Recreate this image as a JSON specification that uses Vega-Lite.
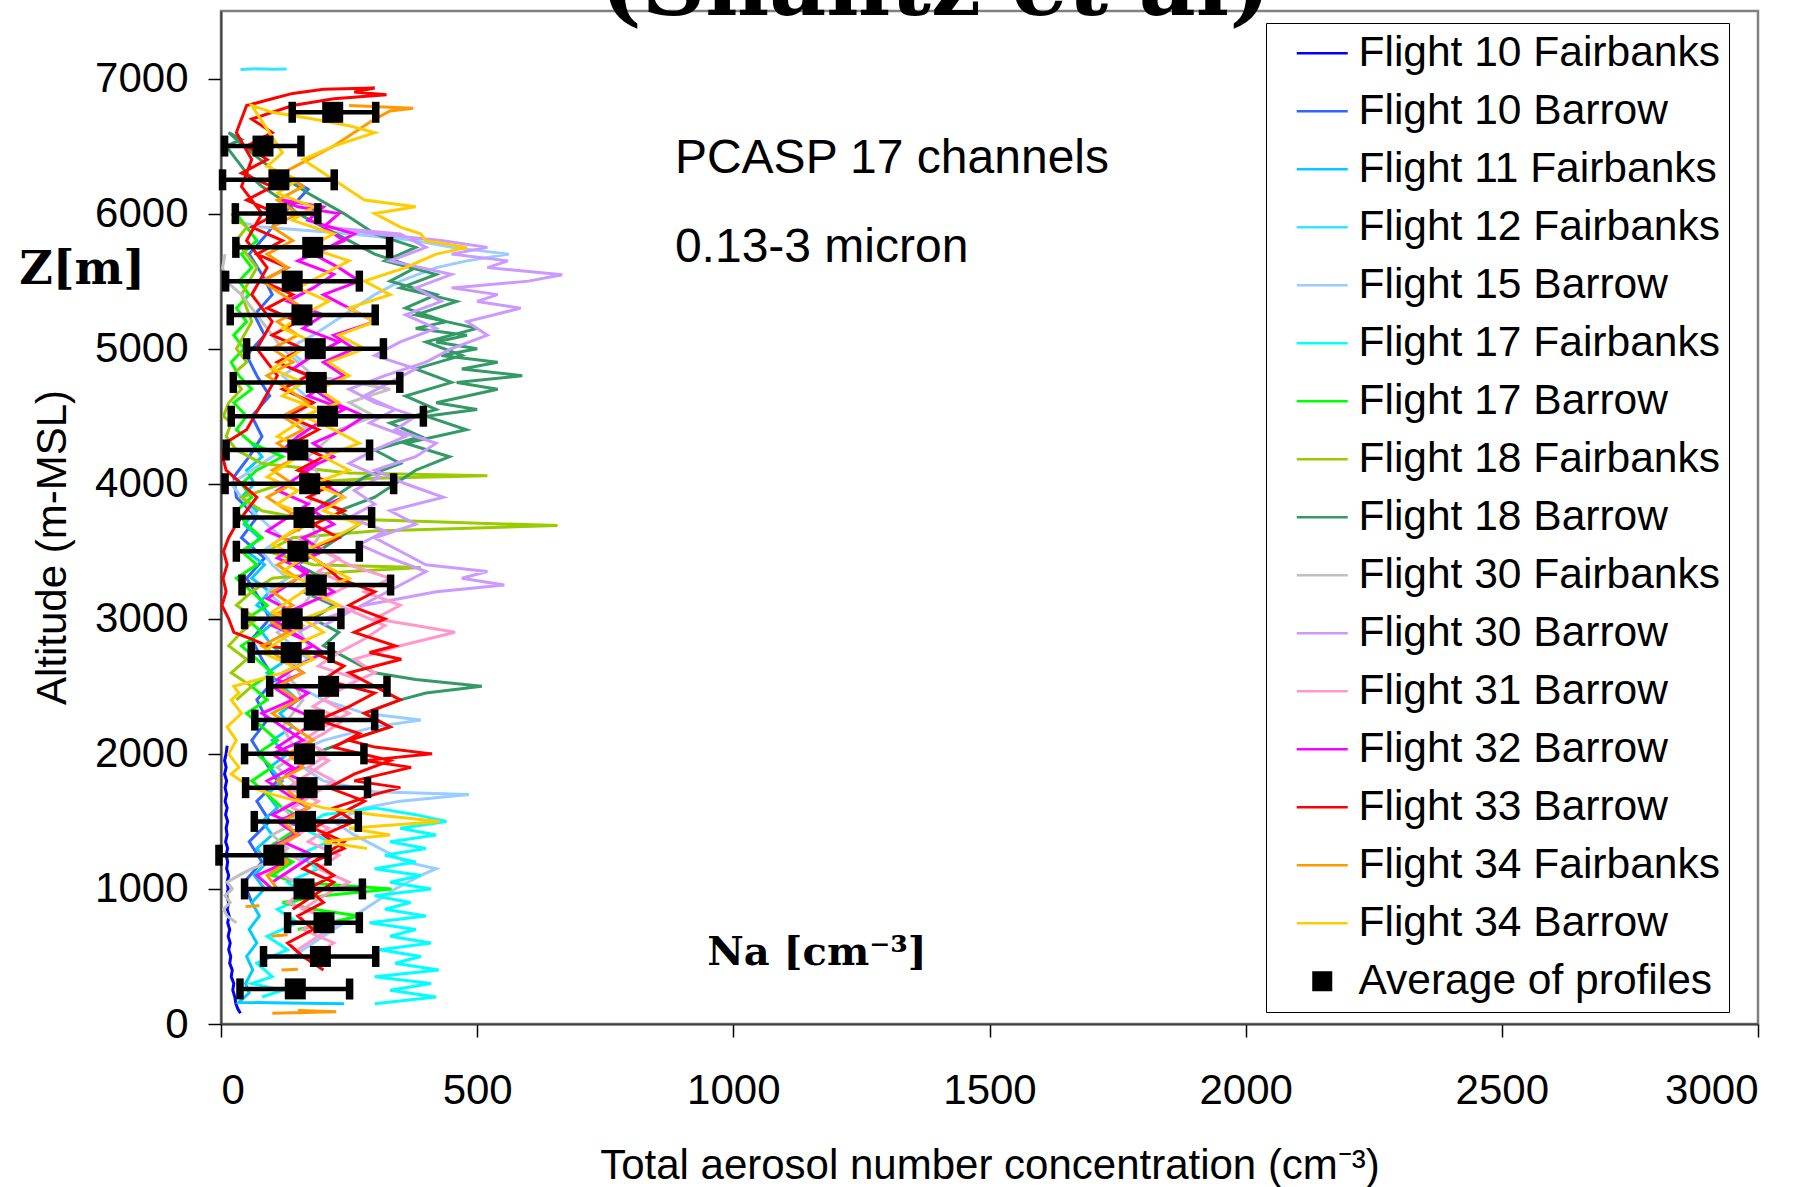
{
  "$schema": "https://vega.github.io/schema/vega-lite/v6.json",
  "width": 1537,
  "height": 1013,
  "autosize": {"type": "none"},
  "padding": {"left": 221, "top": 11, "right": 52, "bottom": 163},
  "background": "white",
  "config": {
    "view": {"stroke": "#808080", "strokeWidth": 2.5},
    "font": "Liberation Sans",
    "axis": {
      "grid": false,
      "labelFont": "Liberation Sans",
      "labelFontSize": 42,
      "labelColor": "black",
      "titleFont": "Liberation Sans",
      "titleFontSize": 42,
      "titleFontWeight": "normal",
      "titleColor": "black",
      "domainColor": "#404040",
      "domainWidth": 2,
      "tickColor": "black",
      "tickWidth": 1.5,
      "tickSize": 13,
      "format": "d"
    }
  },
  "datasets": {
    "series": [
      {"id": 1, "series": "Flight 10 Fairbanks"},
      {"id": 2, "series": "Flight 10 Barrow"},
      {"id": 3, "series": "Flight 11 Fairbanks"},
      {"id": 4, "series": "Flight 12 Fairbanks"},
      {"id": 5, "series": "Flight 15 Barrow"},
      {"id": 6, "series": "Flight 17 Fairbanks"},
      {"id": 7, "series": "Flight 17 Barrow"},
      {"id": 8, "series": "Flight 18 Fairbanks"},
      {"id": 9, "series": "Flight 18 Barrow"},
      {"id": 10, "series": "Flight 30 Fairbanks"},
      {"id": 11, "series": "Flight 30 Barrow"},
      {"id": 12, "series": "Flight 31 Barrow"},
      {"id": 13, "series": "Flight 32 Barrow"},
      {"id": 14, "series": "Flight 33 Barrow"},
      {"id": 15, "series": "Flight 34 Fairbanks"},
      {"id": 16, "series": "Flight 34 Barrow"}
    ],
    "averages": [
      {"z": 260, "m": 145, "lo": 37, "hi": 251},
      {"z": 500, "m": 194, "lo": 83, "hi": 302},
      {"z": 750, "m": 201, "lo": 130, "hi": 270},
      {"z": 1000, "m": 162, "lo": 46, "hi": 276},
      {"z": 1250, "m": 103, "lo": -4, "hi": 209},
      {"z": 1500, "m": 165, "lo": 65, "hi": 268},
      {"z": 1750, "m": 168, "lo": 48, "hi": 286},
      {"z": 2000, "m": 163, "lo": 46, "hi": 279},
      {"z": 2250, "m": 182, "lo": 66, "hi": 300},
      {"z": 2500, "m": 210, "lo": 95, "hi": 324},
      {"z": 2750, "m": 137, "lo": 59, "hi": 215},
      {"z": 3000, "m": 139, "lo": 46, "hi": 234},
      {"z": 3250, "m": 186, "lo": 41, "hi": 331},
      {"z": 3500, "m": 150, "lo": 30, "hi": 270},
      {"z": 3750, "m": 162, "lo": 30, "hi": 294},
      {"z": 4000, "m": 173, "lo": 8, "hi": 337},
      {"z": 4250, "m": 150, "lo": 10, "hi": 290},
      {"z": 4500, "m": 208, "lo": 20, "hi": 395},
      {"z": 4750, "m": 186, "lo": 24, "hi": 349},
      {"z": 5000, "m": 184, "lo": 50, "hi": 317},
      {"z": 5250, "m": 158, "lo": 18, "hi": 301},
      {"z": 5500, "m": 139, "lo": 9, "hi": 270},
      {"z": 5750, "m": 179, "lo": 29, "hi": 329},
      {"z": 6000, "m": 108, "lo": 28, "hi": 189},
      {"z": 6250, "m": 113, "lo": 3, "hi": 221},
      {"z": 6500, "m": 82, "lo": 7, "hi": 156},
      {"z": 6750, "m": 218, "lo": 139, "hi": 302}
    ],
    "profiles": [
      {"id":1,"z":80,"n":38},{"id":1,"z":110,"n":33},{"id":1,"z":150,"n":29},{"id":1,"z":200,"n":27},{"id":1,"z":250,"n":23},{"id":1,"z":300,"n":25},{"id":1,"z":350,"n":20},{"id":1,"z":400,"n":22},{"id":1,"z":450,"n":17},{"id":1,"z":500,"n":19},{"id":1,"z":550,"n":15},{"id":1,"z":600,"n":18},{"id":1,"z":650,"n":14},{"id":1,"z":700,"n":17},{"id":1,"z":750,"n":13},{"id":1,"z":800,"n":16},{"id":1,"z":850,"n":12},{"id":1,"z":900,"n":15},{"id":1,"z":950,"n":11},{"id":1,"z":1000,"n":14},{"id":1,"z":1050,"n":12},{"id":1,"z":1100,"n":15},{"id":1,"z":1150,"n":11},{"id":1,"z":1200,"n":13},{"id":1,"z":1250,"n":10},{"id":1,"z":1300,"n":13},{"id":1,"z":1350,"n":9},{"id":1,"z":1400,"n":12},{"id":1,"z":1450,"n":10},{"id":1,"z":1500,"n":13},{"id":1,"z":1550,"n":9},{"id":1,"z":1600,"n":12},{"id":1,"z":1650,"n":8},{"id":1,"z":1700,"n":11},{"id":1,"z":1750,"n":8},{"id":1,"z":1800,"n":11},{"id":1,"z":1850,"n":7},{"id":1,"z":1900,"n":10},{"id":1,"z":1950,"n":7},{"id":1,"z":2000,"n":10},{"id":1,"z":2060,"n":12},

      {"id":2,"z":900,"n":60},{"id":2,"z":1050,"n":45},{"id":2,"z":1200,"n":80},{"id":2,"z":1350,"n":55},{"id":2,"z":1500,"n":95},{"id":2,"z":1650,"n":70},{"id":2,"z":1800,"n":110},{"id":2,"z":1950,"n":85},{"id":2,"z":2100,"n":60},{"id":2,"z":2250,"n":90},{"id":2,"z":2400,"n":70},{"id":2,"z":2550,"n":105},{"id":2,"z":2700,"n":80},{"id":2,"z":2850,"n":60},{"id":2,"z":3000,"n":95},{"id":2,"z":3150,"n":75},{"id":2,"z":3300,"n":50},{"id":2,"z":3450,"n":85},{"id":2,"z":3600,"n":40},{"id":2,"z":3750,"n":70},{"id":2,"z":3900,"n":30},{"id":2,"z":4050,"n":25},{"id":2,"z":4200,"n":55},{"id":2,"z":4350,"n":80},{"id":2,"z":4500,"n":60},{"id":2,"z":4650,"n":95},{"id":2,"z":4800,"n":70},{"id":2,"z":4950,"n":50},{"id":2,"z":5100,"n":85},{"id":2,"z":5250,"n":65},{"id":2,"z":5400,"n":100},{"id":2,"z":5550,"n":80},{"id":2,"z":5700,"n":55},{"id":2,"z":5850,"n":90},{"id":2,"z":6000,"n":120},{"id":2,"z":6100,"n":150},{"id":2,"z":6180,"n":170},{"id":2,"z":6250,"n":140},

      {"id":3,"z":150,"n":240},{"id":3,"z":155,"n":130},{"id":3,"z":160,"n":35},{"id":3,"z":230,"n":55},{"id":3,"z":300,"n":48},{"id":3,"z":400,"n":62},{"id":3,"z":500,"n":50},{"id":3,"z":600,"n":70},{"id":3,"z":700,"n":55},{"id":3,"z":800,"n":75},{"id":3,"z":900,"n":60},{"id":3,"z":1000,"n":85},{"id":3,"z":1100,"n":65},{"id":3,"z":1200,"n":90},{"id":3,"z":1300,"n":70},{"id":3,"z":1400,"n":100},{"id":3,"z":1500,"n":80},{"id":3,"z":1600,"n":110},{"id":3,"z":1700,"n":90},{"id":3,"z":1800,"n":120},{"id":3,"z":1900,"n":95},{"id":3,"z":2000,"n":130},{"id":3,"z":2100,"n":100},{"id":3,"z":2200,"n":140},{"id":3,"z":2300,"n":115},{"id":3,"z":2400,"n":150},{"id":3,"z":2500,"n":120},{"id":3,"z":2600,"n":90},{"id":3,"z":2700,"n":130},{"id":3,"z":2800,"n":100},{"id":3,"z":2900,"n":80},{"id":3,"z":3000,"n":110},{"id":3,"z":3100,"n":70},{"id":3,"z":3200,"n":95},{"id":3,"z":3300,"n":60},{"id":3,"z":3400,"n":85},{"id":3,"z":3500,"n":50},{"id":3,"z":3600,"n":75},{"id":3,"z":3700,"n":45},{"id":3,"z":3800,"n":70},{"id":3,"z":3900,"n":40},{"id":3,"z":4000,"n":65},{"id":3,"z":4100,"n":50},{"id":3,"z":4200,"n":80},{"id":3,"z":4300,"n":60},

      {"id":4,"z":7066,"n":38},{"id":4,"z":7072,"n":70},{"id":4,"z":7068,"n":100},{"id":4,"z":7071,"n":128},

      {"id":5,"z":500,"n":140},{"id":5,"z":600,"n":180},{"id":5,"z":700,"n":220},{"id":5,"z":800,"n":260},{"id":5,"z":900,"n":300},{"id":5,"z":1000,"n":340},{"id":5,"z":1100,"n":390},{"id":5,"z":1150,"n":420},{"id":5,"z":1200,"n":360},{"id":5,"z":1300,"n":310},{"id":5,"z":1400,"n":260},{"id":5,"z":1500,"n":220},{"id":5,"z":1600,"n":280},{"id":5,"z":1650,"n":350},{"id":5,"z":1700,"n":484},{"id":5,"z":1720,"n":300},{"id":5,"z":1800,"n":200},{"id":5,"z":1900,"n":160},{"id":5,"z":2000,"n":140},{"id":5,"z":2100,"n":200},{"id":5,"z":2200,"n":300},{"id":5,"z":2250,"n":390},{"id":5,"z":2300,"n":280},{"id":5,"z":2400,"n":200},{"id":5,"z":2500,"n":150},{"id":5,"z":2600,"n":120},{"id":5,"z":2700,"n":170},{"id":5,"z":2800,"n":140},{"id":5,"z":2900,"n":110},{"id":5,"z":3000,"n":150},{"id":5,"z":3100,"n":120},{"id":5,"z":3200,"n":90},{"id":5,"z":3300,"n":130},{"id":5,"z":3400,"n":100},{"id":5,"z":3500,"n":80},{"id":5,"z":3600,"n":120},{"id":5,"z":3700,"n":90},{"id":5,"z":3800,"n":60},{"id":5,"z":3900,"n":40},{"id":5,"z":4000,"n":20},{"id":5,"z":4100,"n":60},{"id":5,"z":4200,"n":100},{"id":5,"z":4300,"n":140},{"id":5,"z":4400,"n":170},{"id":5,"z":4500,"n":140},{"id":5,"z":4600,"n":180},{"id":5,"z":4700,"n":150},{"id":5,"z":4800,"n":120},{"id":5,"z":4900,"n":160},{"id":5,"z":5000,"n":130},{"id":5,"z":5100,"n":180},{"id":5,"z":5200,"n":220},{"id":5,"z":5300,"n":260},{"id":5,"z":5400,"n":300},{"id":5,"z":5500,"n":350},{"id":5,"z":5600,"n":420},{"id":5,"z":5650,"n":480},{"id":5,"z":5700,"n":562},{"id":5,"z":5750,"n":450},{"id":5,"z":5800,"n":380},{"id":5,"z":5850,"n":250},{"id":5,"z":5900,"n":80},{"id":5,"z":5950,"n":20},

      {"id":6,"z":150,"n":300},{"id":6,"z":200,"n":420},{"id":6,"z":250,"n":330},{"id":6,"z":300,"n":410},{"id":6,"z":350,"n":300},{"id":6,"z":400,"n":425},{"id":6,"z":450,"n":340},{"id":6,"z":500,"n":390},{"id":6,"z":550,"n":310},{"id":6,"z":600,"n":410},{"id":6,"z":650,"n":330},{"id":6,"z":700,"n":380},{"id":6,"z":750,"n":290},{"id":6,"z":800,"n":400},{"id":6,"z":850,"n":320},{"id":6,"z":900,"n":370},{"id":6,"z":950,"n":300},{"id":6,"z":1000,"n":410},{"id":6,"z":1050,"n":330},{"id":6,"z":1100,"n":390},{"id":6,"z":1150,"n":300},{"id":6,"z":1200,"n":380},{"id":6,"z":1250,"n":320},{"id":6,"z":1300,"n":400},{"id":6,"z":1350,"n":330},{"id":6,"z":1400,"n":420},{"id":6,"z":1450,"n":350},{"id":6,"z":1500,"n":440},{"id":6,"z":1550,"n":380},{"id":6,"z":1600,"n":300},{"id":6,"z":1550,"n":200},{"id":6,"z":1450,"n":160},{"id":6,"z":1350,"n":210},{"id":6,"z":1250,"n":150},{"id":6,"z":1150,"n":190},{"id":6,"z":1050,"n":130},{"id":6,"z":950,"n":170},{"id":6,"z":850,"n":110},{"id":6,"z":750,"n":150},{"id":6,"z":650,"n":90},{"id":6,"z":550,"n":130},{"id":6,"z":450,"n":70},{"id":6,"z":350,"n":100},{"id":6,"z":300,"n":60},{"id":6,"z":250,"n":120},{"id":6,"z":200,"n":80},

      {"id":7,"z":700,"n":150},{"id":7,"z":800,"n":270},{"id":7,"z":850,"n":180},{"id":7,"z":900,"n":120},{"id":7,"z":950,"n":200},{"id":7,"z":1000,"n":333},{"id":7,"z":1050,"n":150},{"id":7,"z":1100,"n":100},{"id":7,"z":1200,"n":140},{"id":7,"z":1300,"n":90},{"id":7,"z":1400,"n":130},{"id":7,"z":1500,"n":170},{"id":7,"z":1600,"n":120},{"id":7,"z":1700,"n":90},{"id":7,"z":1800,"n":60},{"id":7,"z":1900,"n":100},{"id":7,"z":2000,"n":70},{"id":7,"z":2100,"n":110},{"id":7,"z":2200,"n":80},{"id":7,"z":2300,"n":50},{"id":7,"z":2400,"n":90},{"id":7,"z":2500,"n":60},{"id":7,"z":2600,"n":100},{"id":7,"z":2700,"n":70},{"id":7,"z":2800,"n":40},{"id":7,"z":2900,"n":80},{"id":7,"z":3000,"n":50},{"id":7,"z":3100,"n":90},{"id":7,"z":3200,"n":60},{"id":7,"z":3300,"n":30},{"id":7,"z":3400,"n":70},{"id":7,"z":3500,"n":40},{"id":7,"z":3600,"n":80},{"id":7,"z":3700,"n":50},{"id":7,"z":3800,"n":30},{"id":7,"z":3900,"n":60},{"id":7,"z":4000,"n":40},{"id":7,"z":4100,"n":70},{"id":7,"z":4200,"n":120},{"id":7,"z":4300,"n":60},{"id":7,"z":4400,"n":30},{"id":7,"z":4500,"n":50},{"id":7,"z":4600,"n":25},{"id":7,"z":4700,"n":60},{"id":7,"z":4800,"n":35},{"id":7,"z":4900,"n":20},{"id":7,"z":5000,"n":45},{"id":7,"z":5100,"n":25},{"id":7,"z":5200,"n":50},{"id":7,"z":5300,"n":30},{"id":7,"z":5400,"n":55},{"id":7,"z":5500,"n":35},{"id":7,"z":5600,"n":60},{"id":7,"z":5700,"n":40},{"id":7,"z":5800,"n":70},{"id":7,"z":5900,"n":50},{"id":7,"z":6000,"n":30},

      {"id":8,"z":2400,"n":30},{"id":8,"z":2500,"n":60},{"id":8,"z":2600,"n":20},{"id":8,"z":2700,"n":50},{"id":8,"z":2800,"n":15},{"id":8,"z":2900,"n":40},{"id":8,"z":3000,"n":70},{"id":8,"z":3100,"n":30},{"id":8,"z":3200,"n":60},{"id":8,"z":3300,"n":100},{"id":8,"z":3350,"n":250},{"id":8,"z":3380,"n":390},{"id":8,"z":3400,"n":180},{"id":8,"z":3500,"n":90},{"id":8,"z":3600,"n":140},{"id":8,"z":3650,"n":300},{"id":8,"z":3690,"n":657},{"id":8,"z":3720,"n":400},{"id":8,"z":3750,"n":150},{"id":8,"z":3800,"n":80},{"id":8,"z":3900,"n":40},{"id":8,"z":4000,"n":120},{"id":8,"z":4040,"n":300},{"id":8,"z":4060,"n":520},{"id":8,"z":4080,"n":250},{"id":8,"z":4150,"n":80},{"id":8,"z":4250,"n":30},{"id":8,"z":4350,"n":10},{"id":8,"z":4450,"n":20},{"id":8,"z":4500,"n":5},{"id":8,"z":4600,"n":15},{"id":8,"z":4700,"n":40},{"id":8,"z":4800,"n":20},{"id":8,"z":4900,"n":50},{"id":8,"z":5000,"n":30},{"id":8,"z":5200,"n":60},{"id":8,"z":5400,"n":40},{"id":8,"z":5600,"n":70},{"id":8,"z":5800,"n":30},{"id":8,"z":5900,"n":50},{"id":8,"z":6000,"n":20},

      {"id":9,"z":2000,"n":180},{"id":9,"z":2100,"n":250},{"id":9,"z":2200,"n":330},{"id":9,"z":2300,"n":280},{"id":9,"z":2400,"n":350},{"id":9,"z":2450,"n":400},{"id":9,"z":2500,"n":509},{"id":9,"z":2550,"n":380},{"id":9,"z":2600,"n":300},{"id":9,"z":2700,"n":250},{"id":9,"z":2800,"n":200},{"id":9,"z":2900,"n":230},{"id":9,"z":3000,"n":180},{"id":9,"z":3100,"n":220},{"id":9,"z":3200,"n":160},{"id":9,"z":3300,"n":200},{"id":9,"z":3400,"n":150},{"id":9,"z":3500,"n":190},{"id":9,"z":3600,"n":230},{"id":9,"z":3700,"n":270},{"id":9,"z":3800,"n":230},{"id":9,"z":3900,"n":300},{"id":9,"z":4000,"n":340},{"id":9,"z":4100,"n":380},{"id":9,"z":4200,"n":446},{"id":9,"z":4300,"n":360},{"id":9,"z":4400,"n":479},{"id":9,"z":4500,"n":400},{"id":9,"z":4550,"n":500},{"id":9,"z":4600,"n":420},{"id":9,"z":4700,"n":540},{"id":9,"z":4750,"n":460},{"id":9,"z":4800,"n":588},{"id":9,"z":4850,"n":470},{"id":9,"z":4900,"n":540},{"id":9,"z":4950,"n":430},{"id":9,"z":5000,"n":500},{"id":9,"z":5050,"n":420},{"id":9,"z":5100,"n":480},{"id":9,"z":5150,"n":380},{"id":9,"z":5200,"n":440},{"id":9,"z":5300,"n":360},{"id":9,"z":5400,"n":420},{"id":9,"z":5500,"n":330},{"id":9,"z":5600,"n":380},{"id":9,"z":5700,"n":300},{"id":9,"z":5800,"n":250},{"id":9,"z":5900,"n":200},{"id":9,"z":6000,"n":150},{"id":9,"z":6100,"n":120},{"id":9,"z":6200,"n":80},{"id":9,"z":6300,"n":50},{"id":9,"z":6400,"n":30},{"id":9,"z":6500,"n":10},{"id":9,"z":6550,"n":40},{"id":9,"z":6600,"n":15},{"id":9,"z":6450,"n":60},{"id":9,"z":6300,"n":110},{"id":9,"z":6150,"n":170},{"id":9,"z":6000,"n":240},{"id":9,"z":5850,"n":300},{"id":9,"z":5750,"n":380},{"id":9,"z":5650,"n":320},{"id":9,"z":5550,"n":420},{"id":9,"z":5450,"n":350},{"id":9,"z":5350,"n":460},{"id":9,"z":5250,"n":380},{"id":9,"z":5150,"n":500},{"id":9,"z":5050,"n":400},{"id":9,"z":4950,"n":470},{"id":9,"z":4850,"n":380},{"id":9,"z":4750,"n":450},{"id":9,"z":4650,"n":360},{"id":9,"z":4550,"n":420},{"id":9,"z":4450,"n":330},{"id":9,"z":4350,"n":390},{"id":9,"z":4250,"n":300},{"id":9,"z":4150,"n":350},{"id":9,"z":4050,"n":280},{"id":9,"z":3950,"n":240},{"id":9,"z":3850,"n":200},{"id":9,"z":3750,"n":170},{"id":9,"z":3650,"n":150},

      {"id":10,"z":750,"n":30},{"id":10,"z":800,"n":12},{"id":10,"z":850,"n":5},{"id":10,"z":900,"n":18},{"id":10,"z":950,"n":8},{"id":10,"z":1000,"n":22},{"id":10,"z":1050,"n":12},{"id":10,"z":1100,"n":35},{"id":10,"z":1150,"n":60},{"id":10,"z":1200,"n":95},{"id":10,"z":1300,"n":130},{"id":10,"z":1400,"n":100},{"id":10,"z":1500,"n":150},{"id":10,"z":1600,"n":120},{"id":10,"z":1700,"n":170},{"id":10,"z":1800,"n":140},{"id":10,"z":1900,"n":110},{"id":10,"z":2000,"n":150},{"id":10,"z":2200,"n":120},{"id":10,"z":2400,"n":160},{"id":10,"z":2600,"n":130},{"id":10,"z":2800,"n":170},{"id":10,"z":3000,"n":140},{"id":10,"z":3200,"n":180},{"id":10,"z":3400,"n":150},{"id":10,"z":3600,"n":190},{"id":10,"z":3800,"n":160},{"id":10,"z":4000,"n":200},{"id":10,"z":4200,"n":170},{"id":10,"z":4400,"n":230},{"id":10,"z":4500,"n":300},{"id":10,"z":4600,"n":250},{"id":10,"z":4700,"n":330},{"id":10,"z":4750,"n":260},{"id":10,"z":4800,"n":180},{"id":10,"z":5000,"n":120},{"id":10,"z":5200,"n":80},{"id":10,"z":5400,"n":40},{"id":10,"z":5500,"n":10},{"id":10,"z":5600,"n":3},{"id":10,"z":5700,"n":8},

      {"id":11,"z":2900,"n":150},{"id":11,"z":3000,"n":200},{"id":11,"z":3100,"n":280},{"id":11,"z":3200,"n":420},{"id":11,"z":3250,"n":553},{"id":11,"z":3300,"n":470},{"id":11,"z":3350,"n":520},{"id":11,"z":3400,"n":400},{"id":11,"z":3500,"n":350},{"id":11,"z":3600,"n":300},{"id":11,"z":3700,"n":380},{"id":11,"z":3800,"n":330},{"id":11,"z":3900,"n":434},{"id":11,"z":4000,"n":360},{"id":11,"z":4100,"n":300},{"id":11,"z":4200,"n":380},{"id":11,"z":4300,"n":420},{"id":11,"z":4400,"n":340},{"id":11,"z":4500,"n":380},{"id":11,"z":4600,"n":300},{"id":11,"z":4700,"n":250},{"id":11,"z":4800,"n":320},{"id":11,"z":4900,"n":400},{"id":11,"z":5000,"n":450},{"id":11,"z":5100,"n":520},{"id":11,"z":5200,"n":480},{"id":11,"z":5300,"n":585},{"id":11,"z":5350,"n":500},{"id":11,"z":5400,"n":540},{"id":11,"z":5450,"n":450},{"id":11,"z":5500,"n":600},{"id":11,"z":5547,"n":666},{"id":11,"z":5600,"n":520},{"id":11,"z":5650,"n":560},{"id":11,"z":5700,"n":450},{"id":11,"z":5750,"n":520},{"id":11,"z":5800,"n":430},{"id":11,"z":5850,"n":300},{"id":11,"z":5900,"n":200},{"id":11,"z":5850,"n":350},{"id":11,"z":5750,"n":400},{"id":11,"z":5650,"n":330},{"id":11,"z":5550,"n":450},{"id":11,"z":5450,"n":380},{"id":11,"z":5350,"n":430},{"id":11,"z":5250,"n":360},{"id":11,"z":5150,"n":420},{"id":11,"z":5050,"n":350},{"id":11,"z":4950,"n":300},{"id":11,"z":4850,"n":380},{"id":11,"z":4750,"n":330},{"id":11,"z":4650,"n":280},{"id":11,"z":4550,"n":340},{"id":11,"z":4450,"n":290},{"id":11,"z":4350,"n":360},{"id":11,"z":4250,"n":300},{"id":11,"z":4150,"n":250},{"id":11,"z":4050,"n":310},{"id":11,"z":3950,"n":260},{"id":11,"z":3850,"n":300},{"id":11,"z":3750,"n":250},{"id":11,"z":3650,"n":320},{"id":11,"z":3550,"n":270},{"id":11,"z":3450,"n":330},{"id":11,"z":3350,"n":400},{"id":11,"z":3250,"n":350},{"id":11,"z":3150,"n":300},{"id":11,"z":3050,"n":250},{"id":11,"z":2950,"n":200},

      {"id":12,"z":500,"n":180},{"id":12,"z":600,"n":220},{"id":12,"z":700,"n":160},{"id":12,"z":800,"n":200},{"id":12,"z":900,"n":130},{"id":12,"z":1000,"n":170},{"id":12,"z":1100,"n":120},{"id":12,"z":1200,"n":160},{"id":12,"z":1300,"n":110},{"id":12,"z":1400,"n":150},{"id":12,"z":1500,"n":190},{"id":12,"z":1600,"n":140},{"id":12,"z":1700,"n":180},{"id":12,"z":1800,"n":220},{"id":12,"z":1900,"n":170},{"id":12,"z":2000,"n":210},{"id":12,"z":2100,"n":160},{"id":12,"z":2200,"n":200},{"id":12,"z":2300,"n":250},{"id":12,"z":2400,"n":200},{"id":12,"z":2500,"n":240},{"id":12,"z":2600,"n":300},{"id":12,"z":2700,"n":260},{"id":12,"z":2800,"n":350},{"id":12,"z":2900,"n":457},{"id":12,"z":2950,"n":380},{"id":12,"z":3000,"n":300},{"id":12,"z":3100,"n":350},{"id":12,"z":3200,"n":280},{"id":12,"z":3300,"n":330},{"id":12,"z":3400,"n":250},{"id":12,"z":3500,"n":200},{"id":12,"z":3600,"n":150},{"id":12,"z":3550,"n":180},{"id":12,"z":3450,"n":230},{"id":12,"z":3350,"n":190},{"id":12,"z":3250,"n":250},{"id":12,"z":3150,"n":200},{"id":12,"z":3050,"n":260},{"id":12,"z":2950,"n":320},{"id":12,"z":2850,"n":280},{"id":12,"z":2750,"n":230},{"id":12,"z":2650,"n":190},{"id":12,"z":2550,"n":270},{"id":12,"z":2450,"n":220},{"id":12,"z":2350,"n":180},{"id":12,"z":2250,"n":240},{"id":12,"z":2150,"n":200},{"id":12,"z":2050,"n":150},{"id":12,"z":1950,"n":210},{"id":12,"z":1850,"n":170},{"id":12,"z":1750,"n":130},{"id":12,"z":1650,"n":190},{"id":12,"z":1550,"n":150},{"id":12,"z":1450,"n":210},{"id":12,"z":1350,"n":170},{"id":12,"z":1250,"n":230},{"id":12,"z":1150,"n":190},{"id":12,"z":1050,"n":250},{"id":12,"z":950,"n":200},{"id":12,"z":850,"n":160},{"id":12,"z":750,"n":230},{"id":12,"z":650,"n":190},{"id":12,"z":550,"n":150},

      {"id":13,"z":1000,"n":100},{"id":13,"z":1100,"n":70},{"id":13,"z":1200,"n":130},{"id":13,"z":1300,"n":90},{"id":13,"z":1400,"n":150},{"id":13,"z":1500,"n":110},{"id":13,"z":1600,"n":170},{"id":13,"z":1700,"n":130},{"id":13,"z":1800,"n":90},{"id":13,"z":1900,"n":140},{"id":13,"z":2000,"n":100},{"id":13,"z":2100,"n":160},{"id":13,"z":2200,"n":120},{"id":13,"z":2300,"n":80},{"id":13,"z":2400,"n":140},{"id":13,"z":2500,"n":100},{"id":13,"z":2600,"n":160},{"id":13,"z":2700,"n":120},{"id":13,"z":2800,"n":180},{"id":13,"z":2900,"n":140},{"id":13,"z":3000,"n":100},{"id":13,"z":3100,"n":160},{"id":13,"z":3200,"n":220},{"id":13,"z":3300,"n":180},{"id":13,"z":3400,"n":140},{"id":13,"z":3500,"n":200},{"id":13,"z":3600,"n":160},{"id":13,"z":3700,"n":220},{"id":13,"z":3800,"n":180},{"id":13,"z":3900,"n":240},{"id":13,"z":4000,"n":200},{"id":13,"z":4100,"n":160},{"id":13,"z":4200,"n":220},{"id":13,"z":4300,"n":180},{"id":13,"z":4400,"n":240},{"id":13,"z":4500,"n":280},{"id":13,"z":4600,"n":220},{"id":13,"z":4700,"n":180},{"id":13,"z":4800,"n":240},{"id":13,"z":4900,"n":200},{"id":13,"z":5000,"n":260},{"id":13,"z":5100,"n":220},{"id":13,"z":5200,"n":300},{"id":13,"z":5300,"n":250},{"id":13,"z":5400,"n":200},{"id":13,"z":5500,"n":270},{"id":13,"z":5600,"n":230},{"id":13,"z":5700,"n":180},{"id":13,"z":5800,"n":240},{"id":13,"z":5900,"n":200},{"id":13,"z":6000,"n":230},{"id":13,"z":6050,"n":150},{"id":13,"z":6100,"n":120},{"id":13,"z":6050,"n":200},{"id":13,"z":5950,"n":170},{"id":13,"z":5850,"n":260},{"id":13,"z":5750,"n":210},{"id":13,"z":5650,"n":150},{"id":13,"z":5550,"n":220},{"id":13,"z":5450,"n":180},{"id":13,"z":5350,"n":130},{"id":13,"z":5250,"n":200},{"id":13,"z":5150,"n":160},{"id":13,"z":5050,"n":230},{"id":13,"z":4950,"n":180},{"id":13,"z":4850,"n":140},{"id":13,"z":4750,"n":210},{"id":13,"z":4650,"n":170},{"id":13,"z":4550,"n":240},{"id":13,"z":4450,"n":190},{"id":13,"z":4350,"n":150},{"id":13,"z":4250,"n":120},{"id":13,"z":4150,"n":190},{"id":13,"z":4050,"n":150},{"id":13,"z":3950,"n":110},{"id":13,"z":3850,"n":170},{"id":13,"z":3750,"n":130},{"id":13,"z":3650,"n":90},{"id":13,"z":3550,"n":150},{"id":13,"z":3450,"n":110},{"id":13,"z":3350,"n":170},{"id":13,"z":3250,"n":130},{"id":13,"z":3150,"n":90},{"id":13,"z":3050,"n":140},{"id":13,"z":2950,"n":100},{"id":13,"z":2850,"n":160},{"id":13,"z":2750,"n":200},{"id":13,"z":2650,"n":150},{"id":13,"z":2550,"n":110},{"id":13,"z":2450,"n":170},{"id":13,"z":2350,"n":130},{"id":13,"z":2250,"n":190},{"id":13,"z":2150,"n":150},{"id":13,"z":2050,"n":110},{"id":13,"z":1950,"n":170},{"id":13,"z":1850,"n":130},{"id":13,"z":1750,"n":190},{"id":13,"z":1650,"n":150},{"id":13,"z":1550,"n":100},{"id":13,"z":1450,"n":160},{"id":13,"z":1350,"n":120},{"id":13,"z":1250,"n":180},{"id":13,"z":1150,"n":140},{"id":13,"z":1050,"n":100},

      {"id":14,"z":400,"n":200},{"id":14,"z":500,"n":160},{"id":14,"z":600,"n":130},{"id":14,"z":700,"n":180},{"id":14,"z":800,"n":150},{"id":14,"z":900,"n":200},{"id":14,"z":1000,"n":170},{"id":14,"z":1100,"n":220},{"id":14,"z":1200,"n":180},{"id":14,"z":1300,"n":240},{"id":14,"z":1400,"n":200},{"id":14,"z":1500,"n":260},{"id":14,"z":1600,"n":220},{"id":14,"z":1700,"n":300},{"id":14,"z":1750,"n":350},{"id":14,"z":1800,"n":260},{"id":14,"z":1900,"n":371},{"id":14,"z":1950,"n":280},{"id":14,"z":2000,"n":412},{"id":14,"z":2050,"n":300},{"id":14,"z":2100,"n":250},{"id":14,"z":2200,"n":330},{"id":14,"z":2300,"n":280},{"id":14,"z":2400,"n":350},{"id":14,"z":2500,"n":300},{"id":14,"z":2600,"n":250},{"id":14,"z":2700,"n":352},{"id":14,"z":2750,"n":290},{"id":14,"z":2800,"n":340},{"id":14,"z":2900,"n":260},{"id":14,"z":3000,"n":320},{"id":14,"z":3100,"n":250},{"id":14,"z":3200,"n":300},{"id":14,"z":3300,"n":230},{"id":14,"z":3400,"n":200},{"id":14,"z":3500,"n":160},{"id":14,"z":3600,"n":230},{"id":14,"z":3700,"n":180},{"id":14,"z":3800,"n":240},{"id":14,"z":3900,"n":170},{"id":14,"z":4000,"n":220},{"id":14,"z":4100,"n":150},{"id":14,"z":4200,"n":200},{"id":14,"z":4300,"n":140},{"id":14,"z":4400,"n":190},{"id":14,"z":4500,"n":130},{"id":14,"z":4600,"n":180},{"id":14,"z":4700,"n":120},{"id":14,"z":4800,"n":170},{"id":14,"z":4900,"n":110},{"id":14,"z":5000,"n":160},{"id":14,"z":5100,"n":100},{"id":14,"z":5200,"n":150},{"id":14,"z":5300,"n":90},{"id":14,"z":5400,"n":140},{"id":14,"z":5500,"n":80},{"id":14,"z":5600,"n":130},{"id":14,"z":5700,"n":70},{"id":14,"z":5800,"n":120},{"id":14,"z":5900,"n":60},{"id":14,"z":6000,"n":110},{"id":14,"z":6100,"n":50},{"id":14,"z":6200,"n":100},{"id":14,"z":6300,"n":40},{"id":14,"z":6400,"n":90},{"id":14,"z":6500,"n":50},{"id":14,"z":6600,"n":100},{"id":14,"z":6700,"n":60},{"id":14,"z":6800,"n":140},{"id":14,"z":6850,"n":220},{"id":14,"z":6880,"n":323},{"id":14,"z":6900,"n":260},{"id":14,"z":6930,"n":300},{"id":14,"z":6920,"n":200},{"id":14,"z":6890,"n":140},{"id":14,"z":6850,"n":100},{"id":14,"z":6800,"n":50},{"id":14,"z":6600,"n":30},{"id":14,"z":6400,"n":60},{"id":14,"z":6200,"n":40},{"id":14,"z":6000,"n":80},{"id":14,"z":5800,"n":50},{"id":14,"z":5600,"n":90},{"id":14,"z":5400,"n":60},{"id":14,"z":5200,"n":100},{"id":14,"z":5000,"n":70},{"id":14,"z":4800,"n":110},{"id":14,"z":4600,"n":80},{"id":14,"z":4400,"n":50},{"id":14,"z":4300,"n":8},{"id":14,"z":4200,"n":3},{"id":14,"z":4100,"n":10},{"id":14,"z":4000,"n":40},{"id":14,"z":3900,"n":70},{"id":14,"z":3800,"n":50},{"id":14,"z":3700,"n":30},{"id":14,"z":3600,"n":15},{"id":14,"z":3500,"n":5},{"id":14,"z":3400,"n":12},{"id":14,"z":3300,"n":4},{"id":14,"z":3200,"n":10},{"id":14,"z":3100,"n":2},{"id":14,"z":3000,"n":15},{"id":14,"z":2900,"n":25},{"id":14,"z":2850,"n":60},{"id":14,"z":2800,"n":90},{"id":14,"z":2750,"n":180},{"id":14,"z":2650,"n":240},{"id":14,"z":2550,"n":200},{"id":14,"z":2450,"n":300},{"id":14,"z":2350,"n":250},{"id":14,"z":2250,"n":190},{"id":14,"z":2150,"n":270},{"id":14,"z":2050,"n":220},{"id":14,"z":1950,"n":330},{"id":14,"z":1850,"n":260},{"id":14,"z":1750,"n":210},{"id":14,"z":1650,"n":280},{"id":14,"z":1550,"n":230},{"id":14,"z":1450,"n":180},{"id":14,"z":1350,"n":240},{"id":14,"z":1250,"n":200},{"id":14,"z":1150,"n":160},{"id":14,"z":1050,"n":220},{"id":14,"z":950,"n":180},{"id":14,"z":850,"n":140},

      {"id":15,"p":1,"z":80,"n":100},{"id":15,"p":1,"z":90,"n":225},{"id":15,"p":1,"z":100,"n":150},
      {"id":15,"p":2,"z":200,"n":125},{"id":15,"p":2,"z":205,"n":148},
      {"id":15,"p":3,"z":400,"n":118},{"id":15,"p":3,"z":405,"n":150},
      {"id":15,"p":4,"z":650,"n":98},{"id":15,"p":4,"z":660,"n":130},
      {"id":15,"p":5,"z":870,"n":48},{"id":15,"p":5,"z":875,"n":75},
      {"id":15,"z":1000,"n":110},{"id":15,"z":1100,"n":90},{"id":15,"z":1200,"n":130},{"id":15,"z":1300,"n":100},{"id":15,"z":1400,"n":150},{"id":15,"z":1500,"n":120},{"id":15,"z":1600,"n":170},{"id":15,"z":1700,"n":140},{"id":15,"z":1800,"n":110},{"id":15,"z":1900,"n":160},{"id":15,"z":2000,"n":130},{"id":15,"z":2100,"n":180},{"id":15,"z":2200,"n":140},{"id":15,"z":2300,"n":100},{"id":15,"z":2400,"n":150},{"id":15,"z":2500,"n":110},{"id":15,"z":2600,"n":160},{"id":15,"z":2700,"n":120},{"id":15,"z":2800,"n":80},{"id":15,"z":2900,"n":130},{"id":15,"z":3000,"n":90},{"id":15,"z":3100,"n":140},{"id":15,"z":3200,"n":100},{"id":15,"z":3300,"n":150},{"id":15,"z":3400,"n":110},{"id":15,"z":3500,"n":160},{"id":15,"z":3600,"n":120},{"id":15,"z":3700,"n":170},{"id":15,"z":3800,"n":130},{"id":15,"z":3900,"n":90},{"id":15,"z":4000,"n":140},{"id":15,"z":4100,"n":100},{"id":15,"z":4200,"n":150},{"id":15,"z":4300,"n":110},{"id":15,"z":4400,"n":160},{"id":15,"z":4500,"n":120},{"id":15,"z":4600,"n":170},{"id":15,"z":4700,"n":130},{"id":15,"z":4800,"n":90},{"id":15,"z":4900,"n":140},{"id":15,"z":5000,"n":100},{"id":15,"z":5100,"n":150},{"id":15,"z":5200,"n":110},{"id":15,"z":5300,"n":160},{"id":15,"z":5400,"n":120},{"id":15,"z":5500,"n":80},{"id":15,"z":5600,"n":130},{"id":15,"z":5700,"n":90},{"id":15,"z":5800,"n":140},{"id":15,"z":5900,"n":100},{"id":15,"z":6000,"n":150},{"id":15,"z":6100,"n":110},{"id":15,"z":6200,"n":160},{"id":15,"z":6300,"n":120},{"id":15,"z":6400,"n":170},{"id":15,"z":6500,"n":220},{"id":15,"z":6600,"n":260},{"id":15,"z":6700,"n":300},{"id":15,"z":6760,"n":330},{"id":15,"z":6780,"n":375},{"id":15,"z":6800,"n":250},

      {"id":16,"z":1300,"n":285},{"id":16,"z":1350,"n":200},{"id":16,"z":1400,"n":330},{"id":16,"z":1450,"n":250},{"id":16,"z":1500,"n":427},{"id":16,"z":1550,"n":300},{"id":16,"z":1600,"n":200},{"id":16,"z":1650,"n":150},{"id":16,"z":1700,"n":100},{"id":16,"z":1750,"n":60},{"id":16,"z":1800,"n":40},{"id":16,"z":1850,"n":20},{"id":16,"z":1900,"n":35},{"id":16,"z":2000,"n":15},{"id":16,"z":2100,"n":30},{"id":16,"z":2200,"n":12},{"id":16,"z":2300,"n":40},{"id":16,"z":2400,"n":20},{"id":16,"z":2450,"n":35},{"id":16,"z":2500,"n":25},{"id":16,"z":2600,"n":120},{"id":16,"z":2700,"n":180},{"id":16,"z":2800,"n":140},{"id":16,"z":2900,"n":200},{"id":16,"z":3000,"n":160},{"id":16,"z":3100,"n":230},{"id":16,"z":3200,"n":180},{"id":16,"z":3300,"n":250},{"id":16,"z":3400,"n":200},{"id":16,"z":3500,"n":160},{"id":16,"z":3600,"n":220},{"id":16,"z":3700,"n":270},{"id":16,"z":3800,"n":200},{"id":16,"z":3900,"n":240},{"id":16,"z":4000,"n":180},{"id":16,"z":4100,"n":250},{"id":16,"z":4200,"n":200},{"id":16,"z":4300,"n":270},{"id":16,"z":4400,"n":220},{"id":16,"z":4500,"n":160},{"id":16,"z":4600,"n":230},{"id":16,"z":4700,"n":190},{"id":16,"z":4800,"n":250},{"id":16,"z":4900,"n":210},{"id":16,"z":5000,"n":280},{"id":16,"z":5100,"n":230},{"id":16,"z":5200,"n":300},{"id":16,"z":5300,"n":250},{"id":16,"z":5400,"n":330},{"id":16,"z":5500,"n":280},{"id":16,"z":5600,"n":360},{"id":16,"z":5700,"n":420},{"id":16,"z":5750,"n":480},{"id":16,"z":5800,"n":400},{"id":16,"z":5850,"n":390},{"id":16,"z":5900,"n":350},{"id":16,"z":6000,"n":300},{"id":16,"z":6050,"n":380},{"id":16,"z":6100,"n":280},{"id":16,"z":6200,"n":240},{"id":16,"z":6300,"n":200},{"id":16,"z":6400,"n":160},{"id":16,"z":6500,"n":220},{"id":16,"z":6600,"n":300},{"id":16,"z":6650,"n":250},{"id":16,"z":6700,"n":180},{"id":16,"z":6750,"n":100},{"id":16,"z":6800,"n":60},{"id":16,"z":6450,"n":120},{"id":16,"z":6350,"n":90},{"id":16,"z":6250,"n":150},{"id":16,"z":6150,"n":110},{"id":16,"z":6050,"n":180},{"id":16,"z":5950,"n":140},{"id":16,"z":5850,"n":220},{"id":16,"z":5750,"n":170},{"id":16,"z":5650,"n":250},{"id":16,"z":5550,"n":200},{"id":16,"z":5450,"n":150},{"id":16,"z":5350,"n":210},{"id":16,"z":5250,"n":160},{"id":16,"z":5150,"n":120},{"id":16,"z":5050,"n":180},{"id":16,"z":4950,"n":140},{"id":16,"z":4850,"n":100},{"id":16,"z":4750,"n":160},{"id":16,"z":4650,"n":120},{"id":16,"z":4550,"n":190},{"id":16,"z":4450,"n":150},{"id":16,"z":4350,"n":110},{"id":16,"z":4250,"n":170},{"id":16,"z":4150,"n":130},{"id":16,"z":4050,"n":90},{"id":16,"z":3950,"n":150},{"id":16,"z":3850,"n":110},{"id":16,"z":3750,"n":180},{"id":16,"z":3650,"n":140},{"id":16,"z":3550,"n":100},{"id":16,"z":3450,"n":160},{"id":16,"z":3350,"n":120},{"id":16,"z":3250,"n":180},{"id":16,"z":3150,"n":140},{"id":16,"z":3050,"n":100},{"id":16,"z":2950,"n":160},{"id":16,"z":2850,"n":120},{"id":16,"z":2750,"n":80},{"id":16,"z":2650,"n":140}
    ]
  },
  "layer": [
    {
      "data": {"name": "profiles"},
      "transform": [
        {"lookup": "id", "from": {"data": {"name": "series"}, "key": "id", "fields": ["series"]}}
      ],
      "mark": {"type": "line", "strokeWidth": 3, "clip": false},
      "encoding": {
        "x": {
          "field": "n", "type": "quantitative",
          "title": "Total aerosol number concentration (cm⁻³)",
          "scale": {"domain": [0, 3000], "nice": false, "zero": false},
          "axis": {"values": [0, 500, 1000, 1500, 2000, 2500, 3000], "labelPadding": 33, "titleBaseline": "alphabetic", "titleY": 154}
        },
        "y": {
          "field": "z", "type": "quantitative",
          "title": "Altitude (m-MSL)",
          "scale": {"domain": [0, 7500], "nice": false, "zero": false},
          "axis": {"values": [0, 1000, 2000, 3000, 4000, 5000, 6000, 7000], "labelPadding": 20, "titleAngle": 270, "titleX": -156, "titleY": 536, "titleBaseline": "alphabetic", "titleAlign": "center"}
        },
        "color": {
          "field": "series", "type": "nominal",
          "scale": {
            "domain": ["Flight 10 Fairbanks", "Flight 10 Barrow", "Flight 11 Fairbanks", "Flight 12 Fairbanks", "Flight 15 Barrow", "Flight 17 Fairbanks", "Flight 17 Barrow", "Flight 18 Fairbanks", "Flight 18 Barrow", "Flight 30 Fairbanks", "Flight 30 Barrow", "Flight 31 Barrow", "Flight 32 Barrow", "Flight 33 Barrow", "Flight 34 Fairbanks", "Flight 34 Barrow", "Average of profiles"],
            "range": ["#0000FF", "#3366FF", "#00CCFF", "#33E6FF", "#99CCFF", "#00FFFF", "#00FF00", "#99CC00", "#339966", "#C0C0C0", "#CC99FF", "#FF99CC", "#FF00FF", "#FF0000", "#FF9900", "#FFCC00", "#000000"]
          },
          "legend": {
            "title": null,
            "orient": "none",
            "legendX": 1045,
            "legendY": 12,
            "direction": "vertical",
            "symbolType": "stroke",
            "symbolSize": 2601,
            "symbolStrokeWidth": 2.5,
            "symbolOffset": 26,
            "labelFont": "Liberation Sans",
            "labelFontSize": 42.5,
            "labelColor": "black",
            "labelLimit": 900,
            "labelOffset": 15,
            "rowPadding": 15,
            "padding": 9,
            "strokeColor": "black",
            "fillColor": "white",
            "encode": {
              "symbols": {
                "update": {
                  "shape": {"signal": "datum.value === 'Average of profiles' ? 'square' : 'stroke'"},
                  "size": {"signal": "datum.value === 'Average of profiles' ? 400 : 2601"},
                  "fill": {"signal": "datum.value === 'Average of profiles' ? '#000000' : 'transparent'"},
                  "strokeWidth": {"signal": "datum.value === 'Average of profiles' ? 0 : 2.5"}
                }
              },
              "labels": {
                "update": {
                  "text": {"signal": "datum.label + '\u00a0\u00a0'"}
                }
              }
            }
          }
        },
        "detail": {"field": "p", "type": "nominal"},
        "order": {"value": null}
      }
    },
    {
      "data": {"name": "averages"},
      "mark": {"type": "rule", "color": "black", "strokeWidth": 4.5, "clip": false},
      "encoding": {
        "x": {"field": "lo", "type": "quantitative", "title": "Total aerosol number concentration (cm⁻³)"},
        "x2": {"field": "hi"},
        "y": {"field": "z", "type": "quantitative", "title": "Altitude (m-MSL)"}
      }
    },
    {
      "data": {"name": "averages"},
      "mark": {"type": "tick", "orient": "vertical", "color": "black", "size": 21, "thickness": 7.5, "opacity": 1, "clip": false},
      "encoding": {
        "x": {"field": "lo", "type": "quantitative", "title": "Total aerosol number concentration (cm⁻³)"},
        "y": {"field": "z", "type": "quantitative", "title": "Altitude (m-MSL)"}
      }
    },
    {
      "data": {"name": "averages"},
      "mark": {"type": "tick", "orient": "vertical", "color": "black", "size": 21, "thickness": 7.5, "opacity": 1, "clip": false},
      "encoding": {
        "x": {"field": "hi", "type": "quantitative", "title": "Total aerosol number concentration (cm⁻³)"},
        "y": {"field": "z", "type": "quantitative", "title": "Altitude (m-MSL)"}
      }
    },
    {
      "data": {"name": "averages"},
      "mark": {"type": "point", "shape": "square", "filled": true, "size": 441, "opacity": 1, "clip": false},
      "encoding": {
        "x": {"field": "m", "type": "quantitative", "title": "Total aerosol number concentration (cm⁻³)"},
        "y": {"field": "z", "type": "quantitative", "title": "Altitude (m-MSL)"},
        "color": {"datum": "Average of profiles", "type": "nominal"}
      }
    },
    {
      "data": {"values": [{"label": "PCASP 17 channels", "xv": 886, "zv": 6298}, {"label": "0.13-3 micron", "xv": 886, "zv": 5640}]},
      "mark": {"type": "text", "align": "left", "baseline": "alphabetic", "font": "Liberation Sans", "fontSize": 48, "color": "black"},
      "encoding": {
        "x": {"field": "xv", "type": "quantitative", "title": "Total aerosol number concentration (cm⁻³)"},
        "y": {"field": "zv", "type": "quantitative", "title": "Altitude (m-MSL)"},
        "text": {"field": "label"}
      }
    },
    {
      "data": {"values": [{"label": "Z[m]", "xv": -394, "zv": 5479, "size": 46}, {"label": "Na [cm⁻³]", "xv": 949, "zv": 440, "size": 40}, {"label": "(Shantz et al)", "xv": 740, "zv": 7470, "size": 88}]},
      "mark": {"type": "text", "align": "left", "baseline": "alphabetic", "font": "DejaVu Serif", "fontWeight": "bold", "color": "black", "clip": false},
      "encoding": {
        "x": {"field": "xv", "type": "quantitative", "title": "Total aerosol number concentration (cm⁻³)"},
        "y": {"field": "zv", "type": "quantitative", "title": "Altitude (m-MSL)"},
        "text": {"field": "label"},
        "size": {"field": "size", "type": "quantitative", "scale": null}
      }
    }
  ]
}
